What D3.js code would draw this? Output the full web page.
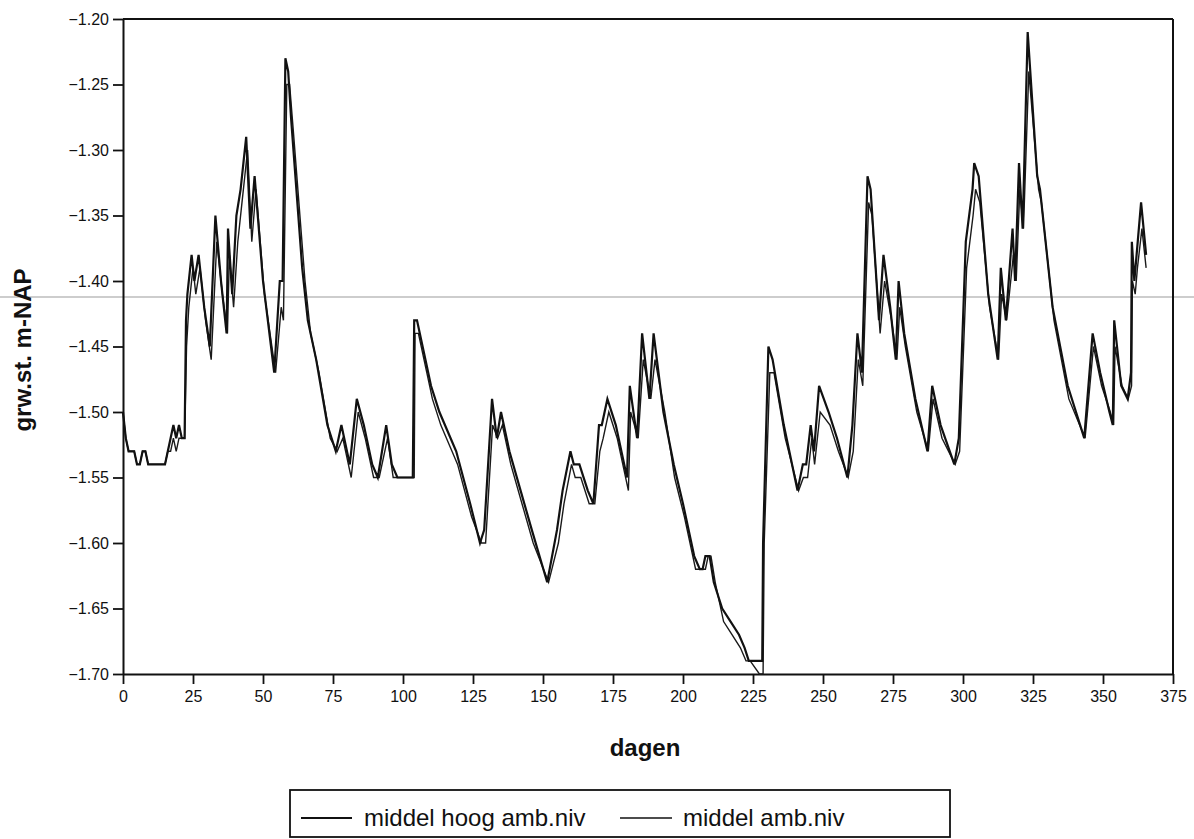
<html>
<head><meta charset="utf-8"></head>
<script src="https://d3js.org/d3.v7.min.js"></script>
<body style="margin:0;background:#fff;">
<div id="chart"></div>
<script>
    // grondwaterstand over het jaar - twee reeksen, afgelezen van de grafiek
    // reeks 1: middel hoog amb.niv
    let hoogDagen = [0,1,2,4,5,6,7,8,9,15,16,17,18,19,20,21,22,22.5,23,24.5,25.5,27,29,31,33,35,37,37.5,39,40.5,42,43,44,45.5,47,50,54,56,57,58,59,60,64,66,69,73,76,78,79,81,83.5,86,89,91,94,96,98,103.5,104,105,108,110,113,117,119,124,127.5,129,131.8,133.5,135,138,142,146,151.5,155,157,159.8,161,163,166,168,170,171,173,176,180,181,183.6,185.4,188,189.5,193,196.7,200,204,206,207,208,209.5,211,214,217,220,222,223.5,228.3,228.6,230.5,232,236,240.9,242.8,244,245.6,246.8,248.6,252,255,258.7,260.5,262.3,263.9,265.9,267,270,271.6,274,276,277,279,283,287.3,289,292,296.9,298.5,301,303.4,304,305.6,309,312.4,313.5,315.3,317.7,318.6,320,321.3,323.1,326.5,327.5,332,337.4,343.3,346.3,349,352.3,353.5,354,356.5,358.8,360,360.3,361.2,362,363.6,365.4];
    let hoogNiv = [-1.50,-1.52,-1.53,-1.53,-1.54,-1.54,-1.53,-1.53,-1.54,-1.54,-1.53,-1.52,-1.51,-1.52,-1.51,-1.52,-1.52,-1.43,-1.41,-1.38,-1.40,-1.38,-1.42,-1.45,-1.35,-1.40,-1.44,-1.36,-1.41,-1.35,-1.33,-1.31,-1.29,-1.36,-1.32,-1.40,-1.47,-1.40,-1.40,-1.23,-1.24,-1.275,-1.39,-1.43,-1.46,-1.51,-1.53,-1.51,-1.52,-1.54,-1.49,-1.51,-1.54,-1.55,-1.51,-1.54,-1.55,-1.55,-1.43,-1.43,-1.46,-1.48,-1.50,-1.52,-1.53,-1.57,-1.60,-1.59,-1.49,-1.52,-1.50,-1.53,-1.56,-1.59,-1.63,-1.59,-1.56,-1.53,-1.54,-1.54,-1.56,-1.57,-1.51,-1.51,-1.49,-1.51,-1.55,-1.48,-1.52,-1.44,-1.49,-1.44,-1.50,-1.54,-1.57,-1.61,-1.62,-1.62,-1.61,-1.61,-1.63,-1.65,-1.66,-1.67,-1.68,-1.69,-1.69,-1.60,-1.45,-1.46,-1.51,-1.56,-1.54,-1.54,-1.51,-1.53,-1.48,-1.50,-1.52,-1.55,-1.51,-1.44,-1.47,-1.32,-1.33,-1.43,-1.38,-1.42,-1.46,-1.40,-1.44,-1.49,-1.53,-1.48,-1.51,-1.54,-1.52,-1.37,-1.33,-1.31,-1.32,-1.41,-1.46,-1.39,-1.43,-1.36,-1.40,-1.31,-1.36,-1.21,-1.32,-1.33,-1.42,-1.48,-1.52,-1.44,-1.47,-1.50,-1.51,-1.43,-1.48,-1.49,-1.47,-1.37,-1.40,-1.38,-1.34,-1.38];

    // reeks 2: middel amb.niv (dunne lijn)
    let ambDagen = [0,1,2,4,5,6,7,8,9,15,16,17,18,19,20,22,22.7,23.5,25,26,27.5,29.5,31.5,33.5,35.5,37.3,38,39.5,41,42.5,43.5,44.5,46,47.5,50.5,54.5,56.5,57.3,58.5,59.5,61,65,67,70,74,76.5,78.5,79.5,81.5,84,86.5,89.5,91.5,94.5,96.5,98,104,104.3,105.5,108.5,110.5,113.5,117.5,119.5,124.5,128,129.5,132,133.8,135.5,138.5,142.5,146.5,152,155.5,157.5,160.2,161.5,163.5,166.5,168.5,170.3,171.5,173.5,176.5,180.5,181.3,184,185.8,188.5,190,193.5,197,200.5,204.5,206.5,208,209,210,211.5,214.5,217.5,220.5,222.5,224,227.3,228.6,229,231,232.5,236.5,241.3,243,244.5,246,247,249,252.5,255.5,259,260.8,262.6,264.2,266.3,267.5,270.4,272,274.5,276.4,277.4,279.4,283.5,287.6,289.3,292.5,297.2,298.8,301.3,303.6,304.5,306,309.5,312.7,313.8,315.6,318,319,320.3,321.6,323.5,327,328,332.5,337.8,343.6,346.6,349.5,352.6,353.8,354.3,356.8,359,360.2,360.5,361.5,362.3,363.9,365.4];
    let ambNiv = [-1.50,-1.52,-1.53,-1.53,-1.54,-1.54,-1.53,-1.53,-1.54,-1.54,-1.53,-1.53,-1.52,-1.53,-1.52,-1.52,-1.45,-1.42,-1.39,-1.41,-1.39,-1.43,-1.46,-1.37,-1.41,-1.44,-1.38,-1.42,-1.37,-1.34,-1.32,-1.30,-1.37,-1.33,-1.41,-1.47,-1.42,-1.43,-1.25,-1.25,-1.29,-1.40,-1.44,-1.47,-1.52,-1.53,-1.52,-1.53,-1.55,-1.50,-1.52,-1.55,-1.55,-1.52,-1.55,-1.55,-1.55,-1.44,-1.44,-1.47,-1.49,-1.51,-1.53,-1.54,-1.58,-1.60,-1.60,-1.51,-1.52,-1.51,-1.54,-1.57,-1.60,-1.63,-1.60,-1.57,-1.54,-1.55,-1.55,-1.57,-1.57,-1.53,-1.52,-1.50,-1.52,-1.56,-1.50,-1.52,-1.46,-1.49,-1.46,-1.50,-1.55,-1.58,-1.62,-1.62,-1.62,-1.61,-1.61,-1.63,-1.66,-1.67,-1.68,-1.69,-1.69,-1.70,-1.70,-1.60,-1.47,-1.47,-1.52,-1.56,-1.55,-1.55,-1.52,-1.54,-1.50,-1.51,-1.53,-1.55,-1.53,-1.46,-1.48,-1.34,-1.35,-1.44,-1.40,-1.43,-1.46,-1.42,-1.45,-1.50,-1.53,-1.49,-1.52,-1.54,-1.53,-1.39,-1.35,-1.33,-1.34,-1.42,-1.46,-1.41,-1.43,-1.38,-1.40,-1.33,-1.36,-1.24,-1.33,-1.34,-1.43,-1.49,-1.52,-1.45,-1.48,-1.50,-1.51,-1.45,-1.48,-1.49,-1.48,-1.40,-1.41,-1.39,-1.36,-1.39];

    let xTicks = [0,25,50,75,100,125,150,175,200,225,250,275,300,325,350,375];
    let yTicks = [-1.20,-1.25,-1.30,-1.35,-1.40,-1.45,-1.50,-1.55,-1.60,-1.65,-1.70];
    let reeksNamen = ["middel hoog amb.niv", "middel amb.niv"];

    let width = 1194, height = 839;
    let plotLeft = 123, plotRight = 1173, plotTop = 19, plotBottom = 674;

    let svg = d3.select('#chart').append('svg')
        .attr('width', width).attr('height', height)
        .style('font-family', '"Liberation Sans", Arial, sans-serif');

    let x = d3.scaleLinear().domain([0, 375]).range([plotLeft, plotRight]);
    let y = d3.scaleLinear().domain([-1.70, -1.20]).range([plotBottom, plotTop]);

    // scan-streep over de hele breedte (zit ook in het origineel)
    svg.append('line')
        .attr('x1', 0).attr('x2', width)
        .attr('y1', 297).attr('y2', 297)
        .attr('stroke', '#bdbdbd').attr('stroke-width', 1.5);

    // kader boven en rechts
    svg.append('line')
        .attr('x1', plotLeft).attr('x2', plotRight).attr('y1', plotTop).attr('y2', plotTop)
        .attr('stroke', '#111').attr('stroke-width', 2);
    svg.append('line')
        .attr('x1', plotRight).attr('x2', plotRight).attr('y1', plotTop).attr('y2', plotBottom)
        .attr('stroke', '#111').attr('stroke-width', 2);

    let xAxis = svg.append('g')
        .attr('transform', `translate(0,${plotBottom})`)
        .call(d3.axisBottom(x).tickValues(xTicks).tickSize(10).tickPadding(7).tickSizeOuter(0));
    let yAxis = svg.append('g')
        .attr('transform', `translate(${plotLeft},0)`)
        .call(d3.axisLeft(y).tickValues(yTicks).tickFormat(d3.format('.2f')).tickSize(10).tickPadding(4).tickSizeOuter(0));

    [xAxis, yAxis].forEach(ax => {
        ax.selectAll('path').attr('stroke', '#111').attr('stroke-width', 2);
        ax.selectAll('line').attr('stroke', '#111').attr('stroke-width', 1.8);
        ax.selectAll('text').attr('fill', '#111').style('font-size', '16px');
    });

    let line = d3.line()
        .x(d => x(d[0]))
        .y(d => y(d[1]));

    let hoog = hoogDagen.map((d, i) => [d, hoogNiv[i]]);
    let amb = ambDagen.map((d, i) => [d, ambNiv[i]]);

    svg.append('path')
        .datum(amb)
        .attr('fill', 'none')
        .attr('stroke', '#1a1a1a')
        .attr('stroke-width', 1.4)
        .attr('d', line);
    svg.append('path')
        .datum(hoog)
        .attr('fill', 'none')
        .attr('stroke', '#111')
        .attr('stroke-width', 2.2)
        .attr('d', line);

    // as titels
    svg.append('text')
        .text('dagen')
        .attr('x', 645).attr('y', 756)
        .attr('text-anchor', 'middle')
        .attr('fill', '#111')
        .attr('font-weight', 'bold')
        .style('font-size', '24px');
    svg.append('text')
        .text('grw.st. m-NAP')
        .attr('transform', 'translate(31,350) rotate(-90)')
        .attr('text-anchor', 'middle')
        .attr('fill', '#111')
        .attr('font-weight', 'bold')
        .style('font-size', '24px');

    // legenda
    let legend = svg.append('g');
    legend.append('rect')
        .attr('x', 290).attr('y', 790)
        .attr('width', 660).attr('height', 47)
        .attr('fill', 'none').attr('stroke', '#111').attr('stroke-width', 1.8);
    legend.append('line')
        .attr('x1', 301).attr('x2', 352).attr('y1', 818).attr('y2', 818)
        .attr('stroke', '#111').attr('stroke-width', 2);
    legend.append('text')
        .text(reeksNamen[0])
        .attr('x', 364).attr('y', 826)
        .attr('fill', '#111')
        .style('font-size', '24px');
    legend.append('line')
        .attr('x1', 620).attr('x2', 672).attr('y1', 818).attr('y2', 818)
        .attr('stroke', '#111').attr('stroke-width', 1.6);
    legend.append('text')
        .text(reeksNamen[1])
        .attr('x', 683).attr('y', 826)
        .attr('fill', '#111')
        .style('font-size', '24px');
</script>
</body>
</html>
